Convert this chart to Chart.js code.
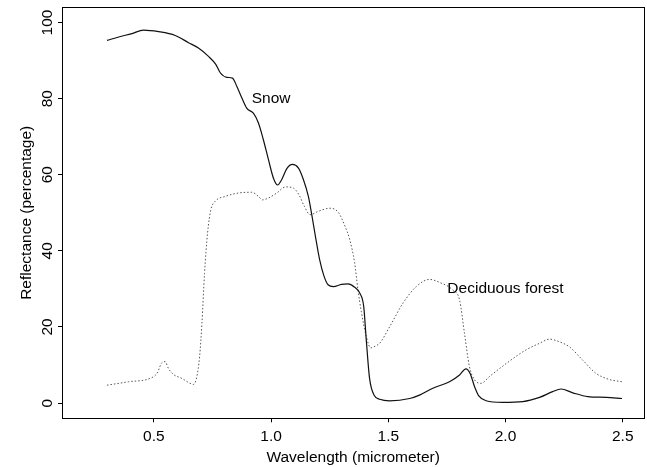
<!DOCTYPE html>
<html>
<head>
<meta charset="utf-8">
<title>Reflectance of snow and deciduous forest</title>
<script src="https://cdn.jsdelivr.net/npm/chart.js@4.4.1/dist/chart.umd.min.js"></script>
<style>
  html, body { margin: 0; padding: 0; background: #fff; }
  #chart { display: block; }
</style>
</head>
<body>
<canvas id="chart" width="647" height="467"></canvas>
<script>
// values
const snowWavelength = [0.30, 0.35, 0.406, 0.456, 0.52, 0.591, 0.648, 0.69, 0.733, 0.764, 0.783, 0.811, 0.835,
  0.854, 0.875, 0.896, 0.925, 0.946, 0.967, 0.989, 1.010, 1.028, 1.045, 1.067, 1.091, 1.116, 1.138, 1.159,
  1.174, 1.19, 1.207, 1.225, 1.243, 1.266, 1.30, 1.328, 1.355, 1.378, 1.395, 1.406, 1.42, 1.441, 1.463,
  1.505, 1.591, 1.633, 1.69, 1.761, 1.804, 1.831, 1.849, 1.868, 1.886, 1.917, 1.988, 2.074, 2.145, 2.201,
  2.237, 2.287, 2.351, 2.429, 2.497];
const snowReflectance = [95.3, 96.2, 97.1, 98.0, 97.6, 96.6, 94.7, 93.3, 91.1, 89.0, 86.8, 85.6, 85.4,
  83.2, 80.2, 77.5, 76.1, 73.6, 69.2, 63.9, 59.1, 57.3, 58.7, 61.6, 62.7, 61.8, 58.7, 54.3,
  49.3, 43.5, 37.7, 33.5, 31.1, 30.6, 31.2, 31.3, 30.5, 28.9, 25.4, 16.6, 6.5, 1.9, 1.0,
  0.6, 1.2, 2.1, 3.9, 5.6, 7.4, 9.0, 7.8, 4.3, 1.9, 0.6, 0.2, 0.4, 1.5, 3.0,
  3.7, 2.7, 1.7, 1.5, 1.2];

const forestWavelength = [0.30, 0.392, 0.484, 0.513, 0.534, 0.548, 0.562, 0.584, 0.619, 0.648, 0.669, 0.683,
  0.695, 0.705, 0.716, 0.729, 0.743, 0.761, 0.804, 0.861, 0.918, 0.946, 0.963, 0.989, 1.024, 1.062, 1.095,
  1.119, 1.142, 1.166, 1.202, 1.251, 1.287, 1.315, 1.335, 1.356, 1.37, 1.385, 1.406, 1.425, 1.445, 1.463,
  1.506, 1.562, 1.619, 1.676, 1.719, 1.775, 1.804, 1.825, 1.846, 1.868, 1.896, 1.932, 2.003, 2.088, 2.145,
  2.187, 2.230, 2.272, 2.329, 2.386, 2.443, 2.497];
const forestReflectance = [4.7, 5.6, 6.5, 7.8, 10.6, 10.9, 9.1, 7.5, 6.5, 5.4, 4.9, 6.9,
  12.2, 21.0, 34.1, 44.7, 50.8, 53.0, 54.3, 55.2, 55.4, 54.3, 53.4, 53.9, 55.2, 56.8, 56.5,
  54.7, 51.7, 49.5, 50.4, 51.2, 50.1, 46.5, 43.0, 37.0, 30.0, 24.0, 17.5, 14.5, 15.0, 15.7,
  20.1, 26.2, 30.6, 32.5, 31.7, 29.7, 27.1, 18.3, 9.6, 6.1, 5.2, 7.0, 10.4, 14.0, 15.7,
  16.8, 16.1, 14.8, 11.3, 7.8, 6.2, 5.6];

const xTicks = [0.5, 1.0, 1.5, 2.0, 2.5];
const yTicks = [0, 20, 40, 60, 80, 100];

const labelTexts = ["Snow", "Deciduous forest"];
const labelX = [1.0, 2.0];
const labelY = [80, 30];

const fontFamily = "'Liberation Sans', Arial, Helvetica, sans-serif";

function toPoints(xs, ys) {
  return xs.map((v, i) => ({ x: v, y: ys[i] }));
}

// box round the plot region and the two curve labels
const frameAndLabels = {
  id: "frameAndLabels",
  afterDatasetsDraw(chart) {
    const { ctx, chartArea: a, scales } = chart;
    ctx.save();
    ctx.strokeStyle = "#000";
    ctx.lineWidth = 1;
    ctx.strokeRect(Math.round(a.left) + 0.5, Math.round(a.top) + 0.5,
      Math.round(a.right - a.left), Math.round(a.bottom - a.top));

    ctx.fillStyle = "#000";
    ctx.font = "15.5px " + fontFamily;
    ctx.textAlign = "center";
    ctx.textBaseline = "middle";
    labelTexts.forEach((t, i) => {
      ctx.fillText(t, scales.x.getPixelForValue(labelX[i]), scales.y.getPixelForValue(labelY[i]));
    });
    ctx.restore();
  }
};

new Chart(document.getElementById("chart"), {
  type: "line",
  data: {
    datasets: [
      {
        label: "Snow",
        data: toPoints(snowWavelength, snowReflectance),
        borderColor: "#111",
        borderWidth: 1.2,
        pointRadius: 0,
        cubicInterpolationMode: "monotone",
        fill: false
      },
      {
        label: "Deciduous forest",
        data: toPoints(forestWavelength, forestReflectance),
        borderColor: "#555",
        borderWidth: 1,
        borderDash: [1.5, 2],
        pointRadius: 0,
        cubicInterpolationMode: "monotone",
        fill: false
      }
    ]
  },
  options: {
    responsive: false,
    animation: false,
    layout: { padding: { top: 7.3, right: 2.7, left: 0, bottom: 0 } },
    plugins: {
      legend: { display: false },
      tooltip: { enabled: false }
    },
    scales: {
      x: {
        type: "linear",
        min: 0.108,
        max: 2.592,
        afterBuildTicks: s => { s.ticks = xTicks.map(v => ({ value: v })); },
        afterFit: s => { s.height = 48.7; },
        grid: { drawOnChartArea: false, drawTicks: true, tickLength: 4, color: "#000", tickColor: "#000" },
        border: { display: false },
        ticks: {
          autoSkip: false,
          maxRotation: 0,
          padding: 5,
          color: "#000",
          font: { family: fontFamily, size: 15.5 },
          callback: v => v.toFixed(1)
        },
        title: {
          display: true,
          text: "Wavelength (micrometer)",
          color: "#000",
          font: { family: fontFamily, size: 15.5 },
          padding: { top: 0, bottom: 0 }
        }
      },
      y: {
        type: "linear",
        min: -4,
        max: 104,
        afterBuildTicks: s => { s.ticks = yTicks.map(v => ({ value: v })); },
        afterFit: s => { s.width = 62; },
        grid: { drawOnChartArea: false, drawTicks: true, tickLength: 4, color: "#000", tickColor: "#000" },
        border: { display: false },
        ticks: {
          autoSkip: false,
          minRotation: 90,
          maxRotation: 90,
          crossAlign: "center",
          padding: -2.5,
          color: "#000",
          font: { family: fontFamily, size: 15.5 },
          callback: v => String(v)
        },
        title: {
          display: true,
          text: "Reflectance (percentage)",
          color: "#000",
          font: { family: fontFamily, size: 15.5 },
          padding: { top: 17, bottom: 0 }
        }
      }
    }
  },
  plugins: [frameAndLabels]
});
</script>
</body>
</html>
